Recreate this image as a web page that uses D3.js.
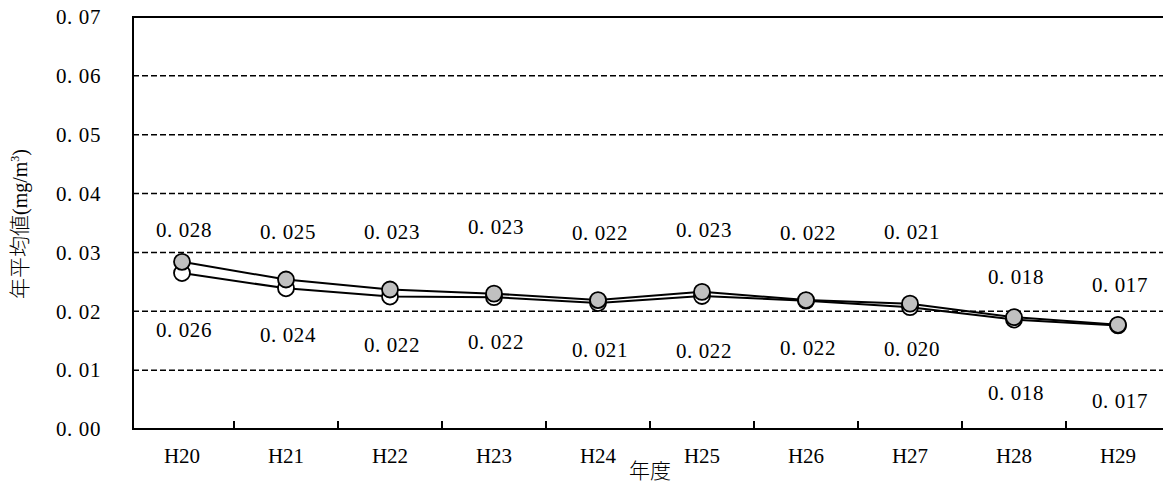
<!DOCTYPE html>
<html><head><meta charset="utf-8">
<script src="https://cdn.jsdelivr.net/npm/d3@7"></script>
<style>body{margin:0;background:#fff}svg{display:block}</style></head>
<body><svg id="c" width="1163" height="486"></svg>
<script>
const categories = ["H20","H21","H22","H23","H24","H25","H26","H27","H28","H29"];
const seriesUpper = [0.0284,0.0254,0.0237,0.0230,0.0219,0.0233,0.0219,0.0213,0.0190,0.0177];
const seriesLower = [0.0265,0.0239,0.0225,0.0224,0.0214,0.0226,0.0218,0.0207,0.0186,0.0176];
const labelsUpper = [0.028,0.025,0.023,0.023,0.022,0.023,0.022,0.021,0.018,0.017];
const labelsLower = [0.026,0.024,0.022,0.022,0.021,0.022,0.022,0.020,0.018,0.017];
// label anchor values (data units)
const labelUpperAt = [0.0338,0.0336,0.0336,0.0343,0.0333,0.0338,0.0333,0.0336,0.0258,0.0245];
const labelLowerAt = [0.0168,0.0160,0.0143,0.0148,0.0134,0.0133,0.0138,0.0136,0.0061,0.0049];
const yTicks = [0,0.01,0.02,0.03,0.04,0.05,0.06,0.07];
const xTitle = "年度";

const FONT = "'Liberation Serif','Noto Sans CJK JP',serif";
const CJK = "'Noto Sans CJK JP',sans-serif";
const svg = d3.select("#c");
const x = d3.scaleBand().domain(categories).range([130,1170]);
const y = d3.scaleLinear().domain([0,0.07]).range([429,17]);
const cx = c => x(c) + x.bandwidth()/2;
const fmt = v => d3.format(".3f")(v).replace(".", ". ");

// gridlines
svg.append("g").selectAll("line").data(yTicks.filter(t => t > 0 && t < 0.07)).join("line")
  .attr("x1",133).attr("x2",1163).attr("y1",d=>y(d)).attr("y2",d=>y(d))
  .attr("stroke","#000").attr("stroke-width",1.5).attr("stroke-dasharray","6,3");
// top border
svg.append("line").attr("x1",133).attr("x2",1163).attr("y1",y(0.07)).attr("y2",y(0.07))
  .attr("stroke","#000").attr("stroke-width",2);

// y axis labels
const ya = svg.append("g").attr("transform","translate(133,0)")
  .call(d3.axisLeft(y).tickValues(yTicks).tickSize(0).tickPadding(32)
    .tickFormat(v => d3.format(".2f")(v).replace(".", ". ")));
ya.select(".domain").remove();
ya.selectAll("text").attr("font-family",FONT).attr("font-size",21).attr("letter-spacing","0.6px").attr("fill","#000");

// x axis labels
const xa = svg.append("g").attr("transform","translate(0,429)")
  .call(d3.axisBottom(x).tickSize(0).tickPadding(19));
xa.select(".domain").remove();
xa.selectAll("text").attr("font-family",FONT).attr("font-size",21).attr("fill","#000");

// inner ticks at category boundaries
svg.append("g").selectAll("line").data(categories.slice(0,-1)).join("line")
  .attr("x1",d=>x(d)+x.bandwidth()).attr("x2",d=>x(d)+x.bandwidth())
  .attr("y1",y(0)).attr("y2",y(0)-8).attr("stroke","#000").attr("stroke-width",2);

// axes lines
svg.append("line").attr("x1",133).attr("x2",133).attr("y1",y(0.07)-1).attr("y2",y(0)+1)
  .attr("stroke","#000").attr("stroke-width",2);
svg.append("line").attr("x1",132).attr("x2",1163).attr("y1",y(0)).attr("y2",y(0))
  .attr("stroke","#000").attr("stroke-width",2);

// series
const line = arr => d3.line().x((d,i)=>cx(categories[i])).y(d=>y(d))(arr);
function drawSeries(arr, fill){
  svg.append("path").attr("d",line(arr)).attr("fill","none").attr("stroke","#000").attr("stroke-width",2);
  svg.append("g").selectAll("circle").data(arr).join("circle")
    .attr("cx",(d,i)=>cx(categories[i])).attr("cy",d=>y(d)).attr("r",8)
    .attr("fill",fill).attr("stroke","#000").attr("stroke-width",1.8);
}
drawSeries(seriesLower,"#ffffff");
drawSeries(seriesUpper,"#c0c0c0");

// data labels
function drawLabels(vals, at){
  svg.append("g").selectAll("text").data(vals).join("text")
    .attr("x",(d,i)=>cx(categories[i])+2).attr("y",(d,i)=>y(at[i]))
    .attr("dy","0.35em").attr("text-anchor","middle")
    .attr("font-family",FONT).attr("font-size",21).attr("letter-spacing","0.6px").attr("fill","#000")
    .text(d=>fmt(d));
}
drawLabels(labelsUpper, labelUpperAt);
drawLabels(labelsLower, labelLowerAt);

// axis titles
svg.append("text").attr("x",650).attr("y",471).attr("dy","0.35em").attr("text-anchor","middle")
  .attr("font-family",CJK).attr("font-weight",300).attr("font-size",21).text(xTitle);

const yt = svg.append("text").attr("transform","translate(27,224) rotate(-90)")
  .attr("text-anchor","middle").attr("font-family",FONT).attr("font-size",20).attr("fill","#000");
yt.append("tspan").attr("font-family",CJK).attr("font-weight",300).attr("font-size",21).text("年平均値");
yt.append("tspan").text("(mg/m");
yt.append("tspan").attr("font-size",12).attr("dy",-8).text("3");
yt.append("tspan").attr("dy",8).text(")");
</script>
</body></html>
